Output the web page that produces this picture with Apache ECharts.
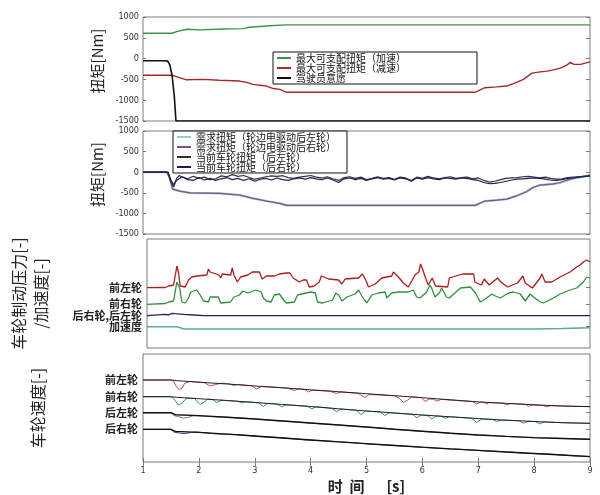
<!DOCTYPE html>
<html>
<head>
<meta charset="utf-8">
<script src="https://cdn.jsdelivr.net/npm/echarts@6/dist/echarts.min.js"></script>
<style>
html,body{margin:0;padding:0;background:#fff;}
#chart{width:600px;height:495px;}
</style>
</head>
<body>
<div id="chart"></div>
<script>
// ---------- data ----------
const timeTicks = [1, 2, 3, 4, 5, 6, 7, 8, 9];
const torqueTicks = [-1500, -1000, -500, 0, 500, 1000];

// Panel 1: torque limits and driver intent [Nm]
const maxAccelTorque = [[1,610],[1.52,610],[1.6,650],[1.78,705],[2.02,690],[2.44,710],[2.8,720],[2.91,755],[3.27,790],[3.57,810],[9,810]];
const maxDecelTorque = [[1,-400],[1.52,-400],[1.64,-450],[1.78,-510],[2.08,-500],[2.37,-520],[2.73,-540],[2.85,-570],[2.97,-620],[3.21,-660],[3.33,-720],[3.45,-740],[3.57,-810],[6.94,-810],[7.12,-700],[7.33,-680],[7.51,-660],[7.63,-600],[7.81,-500],[7.96,-350],[8.11,-320],[8.23,-300],[8.35,-270],[8.47,-230],[8.59,-150],[8.65,-90],[8.71,-140],[8.83,-140],[9,-80]];
const driverIntent = [[1,-50],[1.4,-50],[1.44,-60],[1.48,-150],[1.52,-400],[1.56,-900],[1.59,-1500],[9,-1500]];

// Panel 2: demanded and actual rear wheel torque [Nm]
const demandRL = [[1,0],[1.43,0],[1.48,-150],[1.53,-410],[1.66,-460],[1.84,-500],[2.38,-516],[2.74,-556],[2.97,-637],[3.21,-700],[3.45,-758],[3.57,-806],[6.94,-806],[7.12,-700],[7.33,-677],[7.51,-653],[7.69,-573],[7.86,-476],[7.98,-371],[8.1,-315],[8.34,-290],[8.46,-262],[8.58,-205],[8.7,-160],[8.82,-118],[9,-75]];
const demandRR = [[1,0],[1.43,0],[1.48,-150],[1.53,-410],[1.66,-460],[1.84,-500],[2.38,-516],[2.74,-556],[2.97,-637],[3.21,-700],[3.45,-758],[3.57,-806],[6.94,-806],[7.12,-700],[7.33,-677],[7.51,-653],[7.69,-573],[7.86,-476],[7.98,-371],[8.1,-315],[8.34,-282],[8.46,-250],[8.58,-194],[8.7,-153],[8.82,-113],[9,-73]];
const actualRL = [[1,0],[1.4,0],[1.45,-20],[1.5,-250],[1.55,-360],[1.6,-150],[1.65,-80],[1.7,-120],[1.8,-160],[1.9,-100],[2.0,-150],[2.1,-120],[2.2,-180],[2.3,-160],[2.4,-90],[2.5,-110],[2.6,-60],[2.7,-100],[2.8,-80],[2.9,-130],[3.0,-170],[3.1,-140],[3.2,-110],[3.3,-90],[3.4,-100],[3.5,-85],[3.6,-130],[3.7,-150],[3.8,-120],[3.9,-100],[4.0,-80],[4.1,-120],[4.2,-140],[4.3,-110],[4.4,-160],[4.5,-200],[4.6,-130],[4.7,-110],[4.8,-150],[4.9,-120],[5.0,-180],[5.1,-150],[5.2,-110],[5.3,-150],[5.4,-130],[5.5,-170],[5.6,-120],[5.7,-140],[5.8,-200],[5.9,-120],[6.0,-150],[6.1,-100],[6.2,-140],[6.3,-160],[6.4,-130],[6.5,-110],[6.6,-150],[6.7,-130],[6.8,-120],[6.9,-160],[7.0,-140],[7.1,-200],[7.2,-240],[7.3,-220],[7.4,-180],[7.5,-150],[7.6,-140],[7.7,-130],[7.8,-110],[7.9,-100],[8.0,-120],[8.1,-140],[8.2,-120],[8.3,-150],[8.4,-170],[8.5,-160],[8.6,-130],[8.7,-120],[8.8,-110],[8.9,-100],[9.0,-90]];
const actualRR = [[1,0],[1.45,0],[1.5,-200],[1.55,-300],[1.6,-200],[1.7,-110],[1.8,-180],[1.9,-200],[2.0,-130],[2.1,-190],[2.2,-150],[2.3,-200],[2.4,-160],[2.5,-130],[2.6,-180],[2.7,-150],[2.8,-200],[2.9,-160],[3.0,-220],[3.1,-170],[3.2,-150],[3.3,-190],[3.4,-140],[3.5,-180],[3.6,-200],[3.7,-160],[3.8,-140],[3.9,-170],[4.0,-130],[4.1,-160],[4.2,-180],[4.3,-140],[4.4,-190],[4.5,-250],[4.6,-160],[4.7,-140],[4.8,-180],[4.9,-150],[5.0,-200],[5.1,-160],[5.2,-130],[5.3,-170],[5.4,-150],[5.5,-190],[5.6,-140],[5.7,-160],[5.8,-220],[5.9,-140],[6.0,-170],[6.1,-130],[6.2,-160],[6.3,-180],[6.4,-140],[6.5,-150],[6.6,-170],[6.7,-140],[6.8,-150],[6.9,-180],[7.0,-200],[7.1,-250],[7.2,-280],[7.3,-270],[7.4,-250],[7.5,-220],[7.6,-190],[7.7,-170],[7.8,-160],[7.9,-150],[8.0,-140],[8.1,-150],[8.2,-170],[8.3,-190],[8.4,-200],[8.5,-180],[8.6,-150],[8.7,-140],[8.8,-120],[8.9,-110],[9.0,-90]];

// Panel 3: brake pressure / acceleration (offset traces, [-])
const p3TickValues = [60.3, 43.7, 32.3, 21.3];
const p3TickLabels = ['前左轮', '前右轮', '后右轮,后左轮', '加速度'];
const pressureFL = [[1,60.3],[1.33,60.5],[1.39,62],[1.48,63],[1.54,82],[1.57,75],[1.6,62],[1.69,61],[1.75,68],[1.81,71],[1.9,72],[2.08,73],[2.11,79],[2.14,76],[2.17,74],[2.3,73],[2.33,70],[2.36,74],[2.51,73],[2.54,80],[2.57,73],[2.63,66],[2.69,71],[2.82,73],[2.9,76],[3.03,76],[3.08,69],[3.16,72],[3.3,72],[3.39,74],[3.52,75],[3.58,75],[3.64,70],[3.75,66],[3.82,68],[3.88,68],[3.93,61],[4.02,62],[4.11,66],[4.15,72],[4.28,69],[4.46,68],[4.52,64],[4.58,69],[4.82,70],[4.89,74],[4.95,68],[5.0,61],[5.12,64],[5.24,70],[5.42,72],[5.45,76],[5.54,71],[5.63,65],[5.72,61],[5.84,73],[5.91,76],[5.94,84],[5.97,80],[6.0,75],[6.03,70],[6.08,63],[6.15,70],[6.21,62],[6.43,61],[6.46,70],[6.7,74],[6.9,74],[6.92,66],[7.04,63],[7.09,69],[7.18,63],[7.33,70],[7.39,66],[7.51,61],[7.69,65],[7.79,72],[7.83,65],[7.96,60],[8.1,70],[8.13,74],[8.19,66],[8.31,66],[8.46,71],[8.64,76],[8.76,81],[8.82,83],[8.88,86],[8.94,88],[9.0,86]];
const pressureFR = [[1,43.7],[1.33,44.5],[1.39,46],[1.48,47],[1.54,66],[1.59,60],[1.63,46],[1.69,45],[1.75,50],[1.79,56],[1.9,58],[1.96,53],[2.02,47],[2.11,46],[2.14,51],[2.29,51],[2.33,45],[2.51,46],[2.57,51],[2.67,53],[2.73,57],[2.82,55],[2.97,58],[3.06,56],[3.1,50],[3.16,47],[3.24,46],[3.3,53],[3.39,54],[3.48,47],[3.52,45],[3.66,46],[3.72,53],[3.87,55],[3.96,56],[3.99,58],[4.04,55],[4.08,46],[4.17,45],[4.35,48],[4.41,55],[4.46,53],[4.52,47],[4.61,51],[4.76,54],[4.82,58],[4.88,52],[4.93,48],[4.97,45],[5.06,53],[5.18,55],[5.3,56],[5.33,50],[5.42,55],[5.54,56],[5.72,56],[5.81,58],[5.87,51],[5.93,50],[6.05,56],[6.11,63],[6.14,60],[6.2,51],[6.29,56],[6.32,60],[6.41,51],[6.46,50],[6.54,54],[6.66,60],[6.84,61],[6.93,55],[7.02,46],[7.11,49],[7.23,54],[7.29,52],[7.38,50],[7.53,55],[7.62,56],[7.74,54],[7.83,47],[7.92,54],[7.98,51],[8.1,46],[8.16,45],[8.34,50],[8.46,54],[8.64,58],[8.76,60],[8.88,66],[8.94,71],[9.0,70]];
const pressureRear = [[1,32.3],[1.33,33.7],[1.39,33],[1.45,34.7],[1.51,34.4],[1.66,33.7],[1.84,33],[2.02,32.3],[9,32.3]];
const acceleration = [[1,21.3],[1.54,21.3],[1.6,20.2],[1.66,19],[8.0,19],[8.5,19.4],[9,20.2]];

// Panel 4: wheel speeds (offset traces, [-])
const p4TickValues = [82, 65.3, 49.3, 32.7];
const p4TickLabels = ['前左轮', '前右轮', '后左轮', '后右轮'];
const refFL = [[1,82],[1.5,82],[1.6,81.4],[2,79.8],[2.5,78],[3,76],[3.5,74.2],[4,72.2],[4.5,70.3],[5,68.3],[5.5,66.3],[6,64.3],[6.5,62.2],[7,60.1],[7.5,58.6],[8,57.2],[8.5,56],[9,55.4]];
const speedFL = [[1,82],[1.5,82],[1.55,80.5],[1.6,75],[1.65,72.5],[1.7,74],[1.75,79],[1.85,80.5],[2.1,79.3],[2.2,76],[2.3,77.5],[2.4,78.8],[2.55,78.2],[2.62,76.5],[2.7,77.6],[2.95,76.2],[3.03,73],[3.12,75.5],[3.3,75],[3.6,73.8],[3.7,71.5],[3.8,73.3],[3.9,72.5],[3.96,70],[4.03,71.8],[4.35,70.8],[4.46,68.5],[4.55,70],[4.85,68.6],[4.97,64.5],[5.05,67.5],[5.5,66.3],[5.58,64],[5.66,59.5],[5.74,62],[5.8,65],[5.98,64.4],[6.05,60.5],[6.12,63],[6.2,62.8],[6.26,60.8],[6.33,62.6],[6.9,60.4],[6.97,58],[7.04,59.8],[7.1,59.6],[7.15,58],[7.2,59.4],[7.45,58.8],[7.51,57.2],[7.58,58.5],[7.85,57.6],[7.9,55.5],[7.96,57],[8.15,56.6],[8.22,55.2],[8.3,56.3],[8.6,55.8],[9,55.3]];
const refFR = [[1,65.3],[1.5,65.3],[1.6,64.7],[2,63.3],[2.5,61.5],[3,59.5],[3.5,57.5],[4,55.5],[4.5,53.2],[5,51],[5.5,49],[6,47],[6.5,45.2],[7,43.4],[7.5,41.8],[8,40.5],[8.5,39.3],[9,38.7]];
const speedFR = [[1,65.3],[1.5,65.3],[1.55,63.5],[1.63,57],[1.7,59],[1.78,63.8],[1.92,63.6],[2.02,57.5],[2.1,60],[2.16,62.8],[2.25,62.5],[2.32,59.5],[2.4,61.8],[2.7,60.7],[2.77,59],[2.84,60.3],[3.07,59.2],[3.15,55.5],[3.23,58.6],[3.4,57.9],[3.48,55.2],[3.56,57.2],[3.94,55.7],[4.02,53.2],[4.1,55.2],[4.38,53.7],[4.46,50.3],[4.54,52.9],[4.82,51.8],[4.9,47.5],[4.98,50.9],[5.25,50],[5.33,46.5],[5.41,49.3],[5.82,47.7],[5.9,44.2],[5.98,46.9],[6.09,46.6],[6.17,43.2],[6.25,46],[6.33,45.8],[6.41,43.8],[6.49,45.2],[6.88,43.8],[6.97,39.5],[7.06,43],[7.25,42.6],[7.33,40.5],[7.41,42],[7.73,41.2],[7.81,38.8],[7.89,40.8],[8.02,40.4],[8.1,38.2],[8.18,40.1],[8.5,39.3],[9,38.7]];
const refRL = [[1,49.3],[1.5,49.3],[1.58,47.3],[2,46.4],[2.5,44.8],[3,43],[3.5,41],[4,39],[4.5,37],[5,35],[5.5,32.8],[6,30.8],[6.5,28.8],[7,27],[7.5,25.6],[8,24.4],[8.5,23.5],[9,22.7]];
const speedRL = [[1,49.3],[1.5,49.3],[1.55,46.5],[1.62,45.5],[1.72,44],[1.8,44.5],[1.9,46.3],[2.2,45.5],[2.6,44.5],[3,43.2],[3.4,41.2],[3.6,40.7],[4,38.8],[4.4,37.5],[4.8,35.6],[5.2,34.2],[5.6,32.3],[6,30.6],[6.4,29.3],[6.8,27.6],[7.2,26.6],[7.6,25.3],[8,24.2],[8.4,23.8],[8.8,23],[9,22.6]];
const refRR = [[1,32.7],[1.5,32.7],[1.58,30.7],[2,29.6],[2.5,27.8],[3,26],[3.5,24],[4,22],[4.5,20.1],[5,18.3],[5.5,16.5],[6,14.8],[6.5,13.2],[7,11.7],[7.5,10],[8,8.5],[8.5,7],[9,5.3]];
const speedRR = [[1,32.7],[1.5,32.7],[1.55,30],[1.65,29],[1.75,28.4],[1.85,29.5],[1.95,30],[2.3,28.2],[2.7,27.4],[3.1,25.4],[3.5,24.2],[3.9,22.2],[4.3,21],[4.7,19.5],[5.1,17.7],[5.5,16.6],[5.9,15],[6.3,13.6],[6.7,12.6],[7.1,11.2],[7.5,10.2],[7.9,8.6],[8.3,7.8],[8.7,6.2],[9,5.5]];

// ---------- chart ----------
const numFont = "'Liberation Sans Narrow','DejaVu Sans Condensed',sans-serif";
const cjkFont = "'Noto Sans CJK SC','Noto Sans',sans-serif";
const frame = '#7a7a7a';

function nearestLabel(values, labels, v) {
  v = Number(v);
  let best = 0;
  for (let i = 1; i < values.length; i++) {
    if (Math.abs(values[i] - v) < Math.abs(values[best] - v)) best = i;
  }
  return labels[best];
}

const grids = [
  {left: 143, right: 10, top: 17, height: 104},
  {left: 143, right: 10, top: 131, height: 103},
  {left: 143, right: 10, top: 239, height: 109},
  {left: 143, right: 10, top: 354, height: 108}
].map(g => Object.assign(g, {show: true, borderColor: frame, borderWidth: 1, backgroundColor: '#fff'}));

function xAx(i, showLabels) {
  return {
    type: 'value', gridIndex: i, min: timeTicks[0], max: timeTicks[timeTicks.length - 1], interval: 1,
    axisLine: {show: false}, splitLine: {show: false},
    axisTick: {show: showLabels, inside: true, length: 4, lineStyle: {color: frame}},
    axisLabel: {show: showLabels, fontFamily: numFont, fontSize: 9, color: '#333', margin: 4},
    name: showLabels ? '时  间  　[s]' : '', nameLocation: 'middle', nameGap: 17,
    nameTextStyle: {fontFamily: cjkFont, fontSize: 15, fontWeight: 'bold', color: '#222'}
  };
}

const xAxes = [xAx(0, false), xAx(1, false), xAx(2, false), xAx(3, true),
  {type: 'value', gridIndex: 3, position: 'top', min: 1, max: 9, interval: 1,
   axisLine: {show: false}, splitLine: {show: false}, axisLabel: {show: false},
   axisTick: {show: true, inside: true, length: 4, lineStyle: {color: frame}}}];

function torqueY(i) {
  return {
    type: 'value', gridIndex: i, min: torqueTicks[0], max: torqueTicks[torqueTicks.length - 1], interval: 500,
    axisLine: {show: false}, splitLine: {show: false},
    axisTick: {show: true, inside: true, length: 3, lineStyle: {color: frame}},
    axisLabel: {fontFamily: numFont, fontSize: 9, color: '#333', margin: 4, formatter: v => String(v)},
    name: '扭矩[Nm]', nameLocation: 'middle', nameGap: 31,
    nameTextStyle: {fontFamily: cjkFont, fontSize: 15, color: '#222', padding: [0, 0, 0, 16]}
  };
}
function torqueYRight(i) {
  return {
    type: 'value', gridIndex: i, position: 'right', min: -1500, max: 1000, interval: 500,
    axisLine: {show: false}, splitLine: {show: false}, axisLabel: {show: false},
    axisTick: {show: true, inside: true, length: 4, lineStyle: {color: frame}}
  };
}
function offsetY(i, max, vals, labels, title, gap) {
  return {
    type: 'value', gridIndex: i, min: 0, max: max,
    axisLine: {show: false}, splitLine: {show: false},
    axisTick: {show: false},
    axisLabel: {customValues: vals, hideOverlap: false, fontFamily: cjkFont, fontSize: 11, fontWeight: 'bold', color: '#222', margin: 5,
      formatter: v => nearestLabel(vals, labels, v)},
    name: title, nameLocation: 'middle', nameGap: gap,
    nameTextStyle: {fontFamily: cjkFont, fontSize: 16, color: '#222', lineHeight: 22}
  };
}
function offsetYRight(i, max, vals) {
  return {
    type: 'value', gridIndex: i, position: 'right', min: 0, max: max,
    axisLine: {show: false}, splitLine: {show: false}, axisLabel: {show: false},
    axisTick: {show: true, inside: true, length: 4, customValues: vals, lineStyle: {color: frame}}
  };
}

const yAxes = [
  torqueY(0), torqueY(1),
  offsetY(2, 109, p3TickValues, p3TickLabels, '车轮制动压力[-]\n/加速度[-]', 95),
  offsetY(3, 108, p4TickValues, p4TickLabels, '车轮速度[-]', 94),
  torqueYRight(0), torqueYRight(1),
  offsetYRight(2, 109, p3TickValues), offsetYRight(3, 108, p4TickValues)
];

function line(name, data, gi, color, width) {
  return {
    name: name, type: 'line', data: data, xAxisIndex: gi, yAxisIndex: gi,
    showSymbol: false, symbol: 'none', animation: false, silent: true,
    lineStyle: {color: color, width: width || 1.3}, itemStyle: {color: color}, z: 3
  };
}

const series = [
  line('最大可支配扭矩（加速）', maxAccelTorque, 0, '#3c9448', 1.4),
  line('最大可支配扭矩（减速）', maxDecelTorque, 0, '#a8272a', 1.4),
  line('驾驶员意愿', driverIntent, 0, '#111', 1.6),
  line('需求扭矩（轮边电驱动后左轮）', demandRL, 1, '#8fcfc8', 2.2),
  line('需求扭矩（轮边电驱动后右轮）', demandRR, 1, '#8a4f84', 1.2),
  line('当前车轮扭矩（后左轮）', actualRL, 1, '#333333', 1.2),
  line('当前车轮扭矩（后右轮）', actualRR, 1, '#1c1c66', 1.2),
  line('p3_FL', pressureFL, 2, '#a81d1d', 1.3),
  line('p3_FR', pressureFR, 2, '#2f8f3f', 1.3),
  line('p3_R', pressureRear, 2, '#23235e', 1.3),
  line('p3_acc', acceleration, 2, '#5aa9a2', 1.5),
  line('p4_FL', speedFL, 3, '#c34a4a', 1),
  line('p4_FLref', refFL, 3, '#222', 1),
  line('p4_FR', speedFR, 3, '#3f8f50', 1),
  line('p4_FRref', refFR, 3, '#222', 1),
  line('p4_RL', speedRL, 3, '#777', 1),
  line('p4_RLref', refRL, 3, '#111', 1.4),
  line('p4_RR', speedRR, 3, '#35358f', 1),
  line('p4_RRref', refRR, 3, '#111', 1.3)
];

const legendBase = {
  orient: 'vertical', icon: 'rect', itemWidth: 14, itemHeight: 2, itemGap: 0,
  backgroundColor: '#fff', borderColor: '#111', borderWidth: 1, borderRadius: 0,
  selectedMode: false,
  textStyle: {fontFamily: cjkFont, fontSize: 10, color: '#111', lineHeight: 10}
};

const option = {
  backgroundColor: '#fff',
  animation: false,
  grid: grids,
  xAxis: xAxes,
  yAxis: yAxes,
  legend: [
    Object.assign({}, legendBase, {left: 273, top: 52, padding: [1, 71, 1, 4],
      data: ['最大可支配扭矩（加速）', '最大可支配扭矩（减速）', '驾驶员意愿']}),
    Object.assign({}, legendBase, {left: 173, top: 131, padding: [1, 11, 1, 4],
      textStyle: Object.assign({}, legendBase.textStyle, {lineHeight: 9.3}),
      data: ['需求扭矩（轮边电驱动后左轮）', '需求扭矩（轮边电驱动后右轮）', '当前车轮扭矩（后左轮）', '当前车轮扭矩（后右轮）']})
  ],
  series: series
};

const chart = echarts.init(document.getElementById('chart'), null, {renderer: 'canvas'});
chart.setOption(option);
</script>
</body>
</html>
